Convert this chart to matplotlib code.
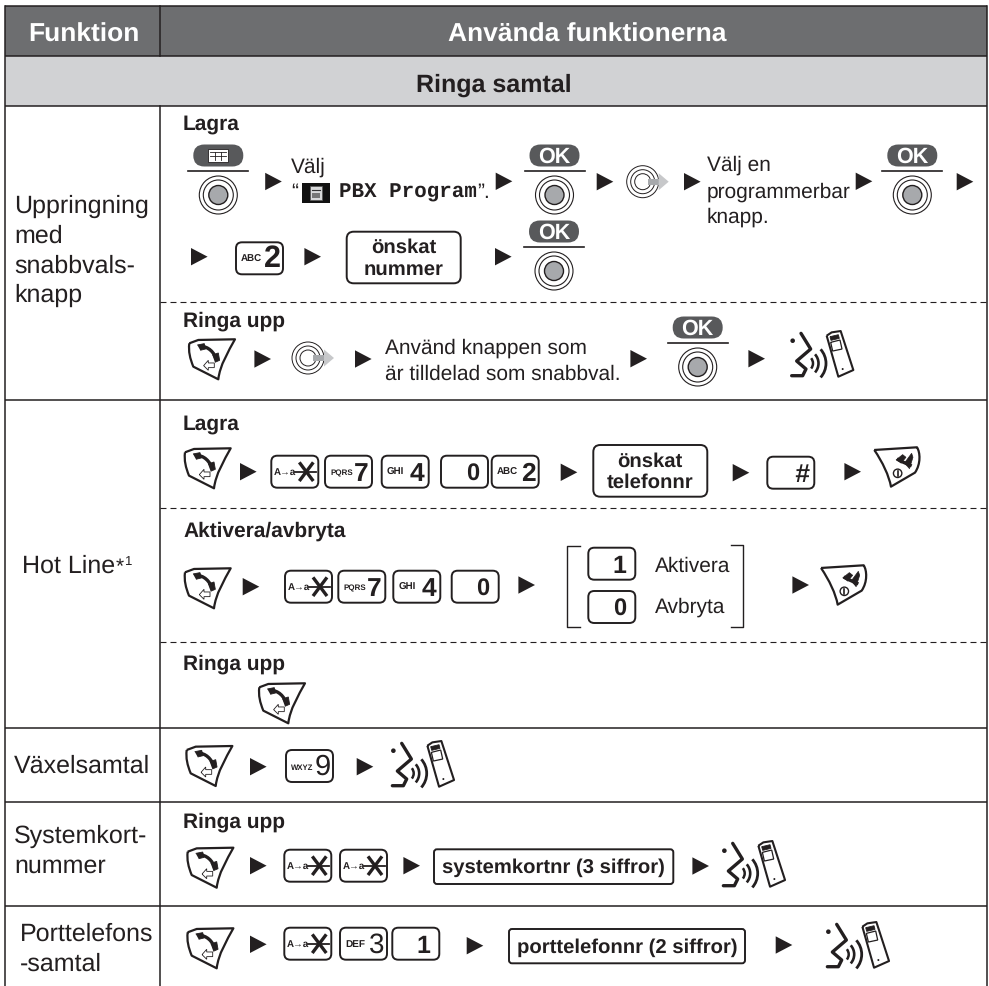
import matplotlib
matplotlib.use("Agg")
import matplotlib.pyplot as plt
from matplotlib.patches import Arc, Circle, FancyBboxPatch, PathPatch, Polygon, Rectangle
from matplotlib.path import Path

plt.rcParams["font.family"] = ["Liberation Sans", "DejaVu Sans"]
plt.rcParams["lines.scale_dashes"] = False
plt.rcParams["text.hinting"] = "no_hinting"

# table text
header_labels = ["Funktion", "Använda funktionerna"]
section_label = "Ringa samtal"
row_labels = ["Uppringning", "med", "snabbvals-", "knapp", "Hot Line", "Växelsamtal",
              "Systemkort-", "nummer", "Porttelefons", "-samtal"]
step_titles = ["Lagra", "Ringa upp", "Aktivera/avbryta"]
box_labels = ["önskat", "nummer", "telefonnr", "systemkortnr (3 siffror)", "porttelefonnr (2 siffror)"]

# small print, big sign, big sign size, big sign weight, right edge inside the key
key_caps = {
    "2big": ("ABC", "2", 22, "bold", 45),
    "2": ("ABC", "2", 19, "bold", 44),
    "3": ("DEF", "3", 20, "normal", 44),
    "4": ("GHI", "4", 19, "bold", 43),
    "7": ("PQRS", "7", 19, "bold", 43.5),
    "9": ("WXYZ", "9", 21, "normal", 45),
    "0": ("", "0", 17, "bold", 38),
    "1": ("", "1", 18, "bold", 38),
    "#": ("", "#", 19, "bold", 42),
    "*": ("A→a", "", 0, "normal", 0),
}

INK = "#231f20"
HEAD = "#6d6e70"
BAND = "#d1d2d4"
GREY = "#a7a9ac"
PILL = "#58595b"

fig = plt.figure(figsize=(9.89, 9.86), dpi=100)
ax = fig.add_axes([0, 0, 1, 1])
ax.set_xlim(0, 989)
ax.set_ylim(986, 0)
ax.axis("off")


def txt(x, y, s, size=15, weight="normal", ha="left", color=INK, **kw):
    ax.text(x, y, s, fontsize=size, fontweight=weight, ha=ha, va="baseline", color=color, **kw)


def arrow(cx, cy):
    ax.add_patch(Polygon([(cx - 8.3, cy - 8.7), (cx + 8.3, cy), (cx - 8.3, cy + 8.7)], fc=INK, ec="none"))


def rbox(x0, y0, x1, y1, r=6, lw=1.4, fc="white", ec=INK):
    ax.add_patch(FancyBboxPatch((x0, y0), x1 - x0, y1 - y0, boxstyle=f"round,pad=0,rounding_size={r}",
                                fc=fc, ec=ec, lw=lw))


def ring_button(cx, cy):
    ax.add_patch(Circle((cx, cy), 19, fc="white", ec=INK, lw=0.8))
    ax.add_patch(Circle((cx, cy), 15, fc="white", ec=INK, lw=0.8))
    ax.add_patch(Circle((cx, cy), 9.5, fc=GREY, ec=INK, lw=1.0))


def softkey(cx, pill_y, label="OK"):
    rbox(cx - 25, pill_y - 11, cx + 25, pill_y + 11, r=11, lw=0, fc=PILL, ec=PILL)
    if label:
        txt(cx, pill_y + 7, label, size=15.5, weight="bold", ha="center", color="white")
    else:
        ax.add_patch(Rectangle((cx - 10, pill_y - 6.5), 20, 13, fc="white", ec=INK, lw=0.6))
        ax.plot([cx - 8, cx + 8], [pill_y, pill_y], color=INK, lw=0.6)
        ax.plot([cx - 8, cx + 8], [pill_y - 4, pill_y - 4], color=INK, lw=0.6)
        for dx in (-3, 3):
            ax.plot([cx + dx, cx + dx], [pill_y - 4, pill_y + 4], color=INK, lw=0.6)
    ax.plot([cx - 30, cx + 30], [pill_y + 15.8, pill_y + 15.8], color=INK, lw=1.2)
    ring_button(cx, pill_y + 39.5)


def nav(cx, cy):
    for r in (16, 12, 8):
        ax.add_patch(Circle((cx, cy), r, fc="white", ec=INK, lw=0.7))
    ax.add_patch(Rectangle((cx + 5, cy - 3), 11, 6, fc=GREY, ec="none"))
    ax.add_patch(Polygon([(cx + 16, cy - 8.5), (cx + 26, cy), (cx + 16, cy + 8.5)], fc="#c7c8ca", ec="none"))


def key(x0, y0, name):
    small, big, size, weight, right = key_caps[name]
    rbox(x0, y0, x0 + 47, y0 + 32, r=6)
    if name == "*":
        txt(x0 + 2.5, y0 + 19.5, small, size=7.0, weight="bold")
        cx, cy = x0 + 35, y0 + 16
        ax.plot([cx - 11, cx + 10], [cy, cy], color=INK, lw=1.3)
        ax.plot([cx - 6, cx + 6], [cy - 8, cy + 8], color=INK, lw=2.4)
        ax.plot([cx - 6, cx + 6], [cy + 8, cy - 8], color=INK, lw=2.4)
        return
    if small:
        small_size = {"PQRS": 5.8, "WXYZ": 5.6, "GHI": 7.0, "DEF": 7.2, "ABC": 7.0}[small]
        txt(x0 + 5, y0 + 19.5, small, size=small_size, weight="bold")
    style = "italic" if name == "#" else "normal"
    txt(x0 + right, y0 + 25, big, size=size, weight=weight, ha="right", style=style)


def place(verts, x0, y0):
    # icon outlines are noted at 3x, like the zoomed crops
    return [(x0 + vx / 3, y0 + vy / 3) for vx, vy in verts]


def curve(verts, codes, x0, y0, **kw):
    ax.add_patch(PathPatch(Path(place(verts, x0, y0), codes), **kw))


M, L, C = Path.MOVETO, Path.LINETO, Path.CURVE4


def phone(x0, y0):
    curve([(3, 15), (30, 5), (140, 3), (120, 40), (95, 80), (90, 123), (15, 85), (5, 60), (0, 40), (3, 15)],
          [M, L, L, C, C, C, L, C, C, C], x0, y0, fc="white", ec=INK, lw=1.6, joinstyle="round")
    curve([(36, 24), (60, 24), (78, 42), (84, 64)], [M, C, C, C], x0, y0, fc="none", ec=INK, lw=2.4)
    curve([(27, 20), (48, 16), (52, 32), (36, 36)], [M, L, L, L], x0, y0, fc=INK, ec=INK, lw=0.6)
    curve([(72, 50), (90, 44), (94, 66), (80, 72)], [M, L, L, L], x0, y0, fc=INK, ec=INK, lw=0.6)
    curve([(46, 82), (60, 66), (60, 74), (78, 74), (78, 88), (60, 88), (60, 96), (46, 82)],
          [M, L, L, L, L, L, L, L], x0, y0, fc="white", ec=INK, lw=0.6)


def end_phone(x0, y0):
    curve([(0, 8), (128, 0), (138, 15), (140, 50), (122, 76), (50, 118), (44, 85), (25, 45), (0, 8)],
          [M, L, C, C, C, L, C, C, C], x0, y0, fc="white", ec=INK, lw=1.6, joinstyle="round")
    curve([(68, 35), (85, 45), (100, 50), (112, 56)], [M, C, C, C], x0, y0, fc="none", ec=INK, lw=2.4)
    curve([(65, 38), (85, 22), (95, 30), (80, 48)], [M, L, L, L], x0, y0, fc=INK, ec=INK, lw=0.5)
    curve([(90, 48), (112, 18), (116, 30), (105, 65)], [M, L, L, L], x0, y0, fc=INK, ec=INK, lw=0.5)
    cx, cy = x0 + 70 / 3, y0 + 78 / 3
    ax.add_patch(Circle((cx, cy), 4.2, fc="white", ec=INK, lw=1.0))
    ax.plot([cx, cx], [cy - 2.5, cy + 2.5], color=INK, lw=1.2)


def talk(x0, y0):
    # face
    xs, ys = zip(*place([(33, 5), (62, 52), (20, 88), (48, 112), (38, 132), (5, 132)], x0, y0))
    ax.plot(xs, ys, color=INK, lw=2.4, solid_joinstyle="round", solid_capstyle="round")
    ax.add_patch(Circle((x0 + 8 / 3, y0 + 27 / 3), 2.3, fc=INK, ec="none"))
    # sound waves
    cx, cy = x0 + 45 / 3, y0 + 95 / 3
    ax.add_patch(Arc((cx, cy), 16, 16, theta1=-40, theta2=40, ec=INK, lw=1.8))
    ax.add_patch(Arc((cx, cy), 27, 27, theta1=-42, theta2=42, ec=INK, lw=1.9))
    ax.add_patch(Arc((cx, cy), 42, 42, theta1=-42, theta2=42, ec=INK, lw=2.0))
    # handset
    curve([(110, 12), (125, 2), (152, -2), (190, 115), (145, 135), (110, 12)], [M, L, L, L, L, L],
          x0, y0, fc="white", ec=INK, lw=1.5, joinstyle="round")
    curve([(122, 32), (150, 25), (156, 52), (128, 58), (122, 32)], [M, L, L, L, L], x0, y0, fc="white", ec=INK, lw=0.9)
    curve([(120, 15), (145, 9), (148, 20), (123, 26), (120, 15)], [M, L, L, L, L], x0, y0, fc=INK, ec=INK, lw=0.6)
    ax.add_patch(Circle((x0 + 158 / 3, y0 + 112 / 3), 1.0, fc=INK, ec="none"))


def hline(y, x0=4.5, x1=986.5):
    ax.plot([x0, x1], [y, y], color=INK, lw=1.1, solid_capstyle="butt")


def dashed(y):
    ax.plot([160, 986], [y, y], color=INK, lw=0.8, linestyle=(0, (4.3, 2.9)))


# header and band
ax.add_patch(Rectangle((4.5, 6), 982, 50, fc=HEAD, ec="none"))
ax.add_patch(Rectangle((4.5, 56), 982, 50, fc=BAND, ec="none"))
txt(83.5, 42, header_labels[0], size=19, weight="bold", ha="center", color="white")
txt(587, 42, header_labels[1], size=19, weight="bold", ha="center", color="white")
txt(494, 92, section_label, size=18, weight="bold", ha="center")

# grid
for y in (6, 56, 106, 400, 728, 802, 906):
    hline(y)
ax.plot([4.5, 4.5], [6, 986], color=INK, lw=1.1)
ax.plot([986.5, 986.5], [6, 986], color=INK, lw=1.1)
ax.plot([160, 160], [6, 56], color=INK, lw=1.1)
ax.plot([160, 160], [106, 986], color=INK, lw=1.1)
for y in (302, 508, 642):
    dashed(y)

# left column
txt(14, 213.3, row_labels[0], size=18)
txt(14, 243, row_labels[1], size=18)
txt(14, 272.7, row_labels[2], size=18)
txt(14, 302, row_labels[3], size=18)
txt(21.7, 572.7, row_labels[4], size=18)
txt(116, 572.7, "*", size=15)
txt(125, 565, "1", size=9.5)
txt(14, 773, row_labels[5], size=18)
txt(14, 842.7, row_labels[6], size=18)
txt(14, 873, row_labels[7], size=18)
txt(20, 941, row_labels[8], size=18)
txt(20, 971, row_labels[9], size=18)

# step titles
txt(183, 130, step_titles[0], weight="bold")
txt(183, 327, step_titles[1], weight="bold")
txt(183, 430, step_titles[0], weight="bold")
txt(183, 536.7, step_titles[2], weight="bold")
txt(183, 670, step_titles[1], weight="bold")
txt(183, 828, step_titles[1], weight="bold")

# first row, Lagra
softkey(218.3, 155.5, label="")
arrow(273.5, 181.5)
txt(291, 173, "Välj")
txt(291, 198, "“")
ax.add_patch(Rectangle((301.7, 182.7), 28.3, 20.6, fc="#111111", ec="none"))
ax.add_patch(Rectangle((310, 186), 12, 14, fc="#d8d9da", ec="#555555", lw=0.5))
ax.plot([312, 320], [190, 190], color="#333333", lw=0.8)
ax.add_patch(Rectangle((312, 193), 8, 5, fc="#777777", ec="none"))
txt(339, 198, "PBX Program", weight="bold", family="Liberation Mono")
txt(477, 198, "”.")
arrow(504, 181.3)
softkey(554.5, 155.5)
arrow(605, 181.7)
nav(642.7, 181.7)
arrow(692.3, 181.7)
txt(706.7, 171, "Välj en")
txt(706.7, 197.3, "programmerbar")
txt(706.7, 223, "knapp.")
arrow(864, 181.3)
softkey(912.3, 155.5)
arrow(965, 181.7)

arrow(199.3, 256.7)
key(236, 242.3, "2big")
arrow(312.7, 256.7)
rbox(346.7, 231.7, 460.7, 283.3, r=7)
txt(403.7, 253, box_labels[0], size=14.6, weight="bold", ha="center")
txt(403.7, 275, box_labels[1], size=14.6, weight="bold", ha="center")
arrow(503.3, 256.7)
softkey(554, 231.5)

# first row, Ringa upp
phone(188.3, 338.3)
arrow(262.7, 359)
nav(308, 358)
arrow(363.3, 359)
txt(385, 353.3, "Använd knappen som")
txt(385, 380, "är tilldelad som snabbval.")
arrow(638.7, 358.7)
softkey(697.7, 327.5)
arrow(756.7, 358.7)
talk(790, 331.7)

# second row, Lagra
phone(184, 447.3)
arrow(248.3, 471.7)
key(271.3, 455.7, "*")
key(325, 455.7, "7")
key(381.7, 455.7, "4")
key(441, 455.7, "0")
key(491.7, 455.7, "2")
arrow(569, 472.3)
rbox(593.3, 445, 707.3, 496.7, r=7)
txt(650.3, 467, box_labels[0], size=14.6, weight="bold", ha="center")
txt(650.3, 488, box_labels[2], size=14.6, weight="bold", ha="center")
arrow(741, 472.7)
key(767.3, 456.7, "#")
arrow(852.7, 471.7)
end_phone(874.3, 447.3)

# second row, Aktivera/avbryta
phone(184, 567.3)
arrow(251, 586.7)
key(285, 570.7, "*")
key(338.3, 570.7, "7")
key(393.3, 570.7, "4")
key(451.7, 570.7, "0")
arrow(526.7, 585)
ax.plot([580, 567.3, 567.3, 580], [546, 546, 627, 627], color=INK, lw=1.0)
ax.plot([731, 743.3, 743.3, 731], [545, 545, 627, 627], color=INK, lw=1.0)
key(588.3, 547.7, "1")
key(588.3, 591, "0")
txt(655, 571.7, "Aktivera")
txt(655, 613, "Avbryta")
arrow(800.7, 585)
end_phone(821, 565.3)

# second row, Ringa upp
phone(258.3, 682.3)

# Växelsamtal
phone(185.7, 745)
arrow(258.3, 766.7)
key(286, 750, "9")
arrow(365, 766.7)
talk(390.7, 741.7)

# Systemkortnummer
phone(186.7, 846.7)
arrow(258.3, 865.7)
key(284.3, 849.7, "*")
key(340, 849.7, "*")
arrow(411.7, 865.7)
rbox(434, 849.3, 673.3, 884, r=3)
txt(553.7, 873, box_labels[3], size=14.6, weight="bold", ha="center")
arrow(700.7, 866)
talk(721.7, 841.7)

# Porttelefonssamtal
phone(186.7, 927.3)
arrow(258.3, 944.3)
key(284.3, 927.7, "*")
key(340, 927.7, "3")
key(392.3, 927.7, "1")
arrow(475, 945.7)
rbox(509, 929, 745, 963.3, r=3)
txt(627, 952.7, box_labels[4], size=14.6, weight="bold", ha="center")
arrow(784, 945)
talk(825.7, 922.7)

fig.savefig("out.png", dpi=100)
